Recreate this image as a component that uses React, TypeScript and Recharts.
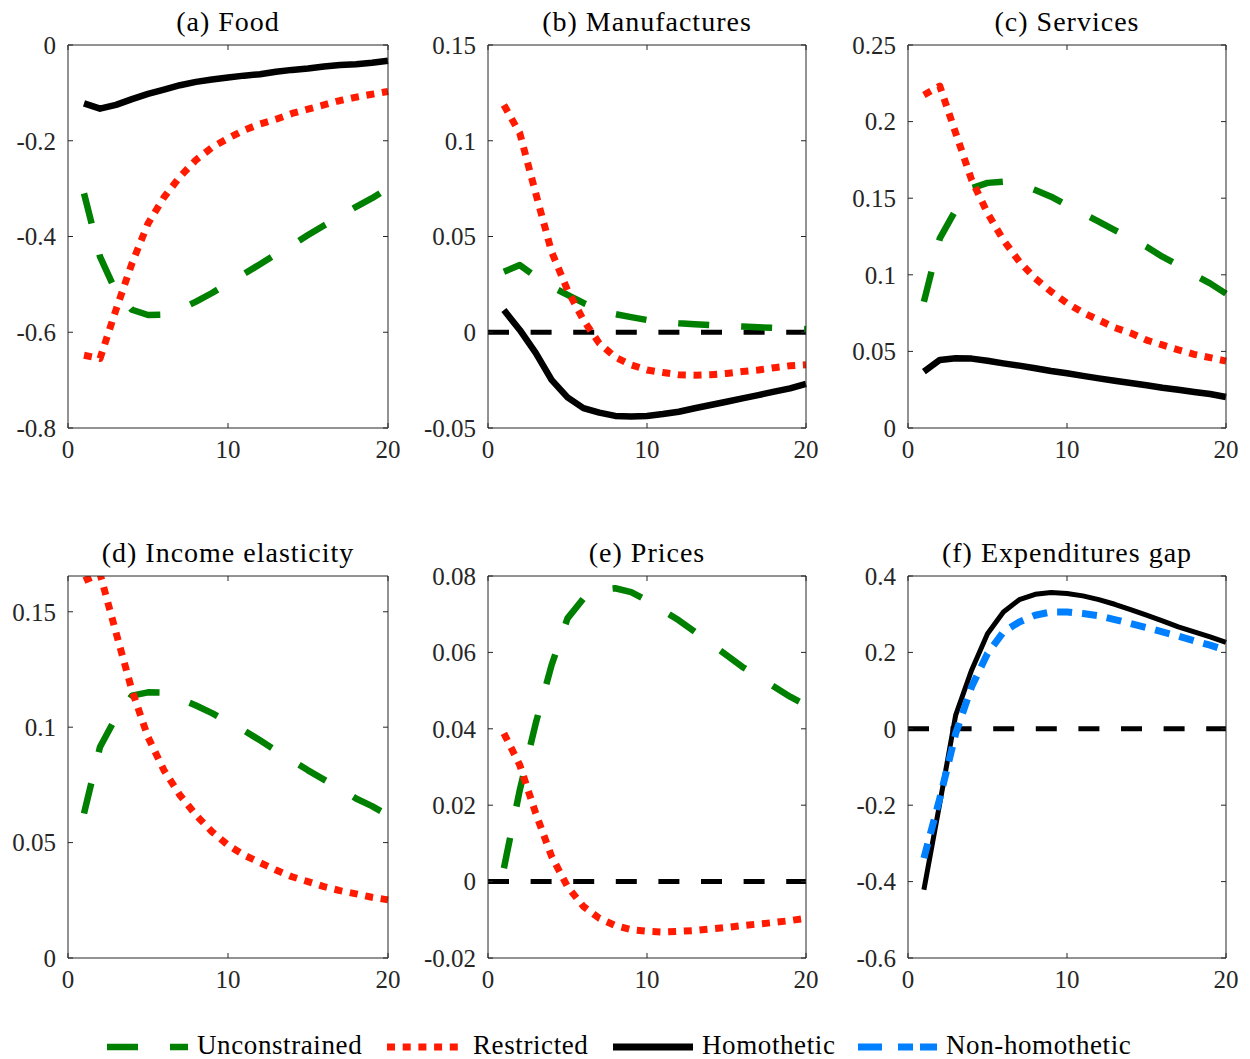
import React from 'react';
import { LineChart, Line, XAxis, YAxis, ReferenceLine } from 'recharts';

const periods = [1, 2, 3, 4, 5, 6, 7, 8, 9, 10, 11, 12, 13, 14, 15, 16, 17, 18, 19, 20];

// (a) Food
const foodUnconstrained = [-0.31, -0.442, -0.515, -0.553, -0.564, -0.563, -0.552, -0.536, -0.518, -0.498, -0.478, -0.458, -0.437, -0.418, -0.397, -0.377, -0.358, -0.338, -0.32, -0.299];
const foodRestricted = [-0.648, -0.655, -0.553, -0.456, -0.373, -0.318, -0.275, -0.24, -0.214, -0.195, -0.178, -0.165, -0.155, -0.143, -0.134, -0.125, -0.116, -0.109, -0.103, -0.097];
const foodHomothetic = [-0.122, -0.133, -0.125, -0.113, -0.102, -0.093, -0.084, -0.077, -0.072, -0.068, -0.064, -0.061, -0.056, -0.052, -0.049, -0.045, -0.042, -0.04, -0.037, -0.033];

// (b) Manufactures
const manufUnconstrained = [0.0316, 0.0351, 0.029, 0.0238, 0.0195, 0.0153, 0.0117, 0.0095, 0.0079, 0.0064, 0.0054, 0.0047, 0.0042, 0.0037, 0.0033, 0.003, 0.0026, 0.0023, 0.0019, 0.0016];
const manufRestricted = [0.1187, 0.1039, 0.0726, 0.042, 0.022, 0.0064, -0.0058, -0.013, -0.017, -0.0197, -0.021, -0.0222, -0.0224, -0.0222, -0.0215, -0.0205, -0.0197, -0.0185, -0.0175, -0.017];
const manufHomothetic = [0.0116, 0.0012, -0.0108, -0.0249, -0.034, -0.0396, -0.042, -0.0437, -0.044, -0.0437, -0.0427, -0.0415, -0.0397, -0.038, -0.0363, -0.0345, -0.0328, -0.031, -0.0293, -0.027];

// (c) Services
const servUnconstrained = [0.0824, 0.1238, 0.1423, 0.1565, 0.16, 0.1608, 0.1594, 0.1553, 0.151, 0.1455, 0.14, 0.1347, 0.1292, 0.1238, 0.1183, 0.1118, 0.1064, 0.0999, 0.0944, 0.0877];
const servRestricted = [0.2174, 0.2232, 0.1925, 0.162, 0.1403, 0.1227, 0.1086, 0.0977, 0.089, 0.0815, 0.0753, 0.0705, 0.0655, 0.062, 0.0574, 0.0542, 0.051, 0.0481, 0.0459, 0.0437];
const servHomothetic = [0.0368, 0.0444, 0.0455, 0.0453, 0.0439, 0.0422, 0.0407, 0.039, 0.0372, 0.0357, 0.034, 0.0324, 0.0309, 0.0294, 0.0279, 0.0263, 0.025, 0.0235, 0.0222, 0.0202];

// (d) Income elasticity
const elastUnconstrained = [0.0626, 0.0914, 0.1043, 0.1137, 0.1151, 0.115, 0.1123, 0.1094, 0.1061, 0.1022, 0.0986, 0.0943, 0.0899, 0.0856, 0.0813, 0.0773, 0.0734, 0.0691, 0.0658, 0.0619];
const elastRestricted = [0.1635, 0.1665, 0.141, 0.1159, 0.0957, 0.0813, 0.0705, 0.0619, 0.0547, 0.0489, 0.0446, 0.0413, 0.0381, 0.0352, 0.0331, 0.0309, 0.0292, 0.0278, 0.0263, 0.0252];

// (e) Prices
const priceUnconstrained = [0.0035, 0.024, 0.0414, 0.0567, 0.0689, 0.0741, 0.0764, 0.0768, 0.0758, 0.0736, 0.071, 0.0684, 0.0654, 0.0623, 0.0593, 0.0562, 0.0536, 0.051, 0.0484, 0.0462];
const priceRestricted = [0.0388, 0.0305, 0.0179, 0.0066, -0.0013, -0.0065, -0.0096, -0.0115, -0.0126, -0.013, -0.0132, -0.013, -0.0128, -0.0124, -0.012, -0.0115, -0.0111, -0.0107, -0.0102, -0.0096];

// (f) Expenditures gap
const gapHomothetic = [-0.4215, -0.195, 0.036, 0.1535, 0.249, 0.306, 0.338, 0.352, 0.3566, 0.354, 0.348, 0.3383, 0.326, 0.312, 0.2973, 0.2824, 0.2667, 0.2537, 0.2406, 0.226];
const gapNonHomothetic = [-0.3387, -0.182, -0.012, 0.11, 0.197, 0.2536, 0.2798, 0.2973, 0.306, 0.306, 0.3017, 0.296, 0.286, 0.2756, 0.265, 0.2536, 0.2424, 0.2301, 0.2189, 0.2058];

const xTicks = [0, 10, 20];

const GREEN = '#008000';
const RED = '#ff1a00';
const BLACK = '#000000';
const BLUE = '#0080ff';
const AXIS = '#262626';
const FONT = '"Liberation Serif", serif';

const green = { color: GREEN, width: 6.5, dash: '31 32' };
const red = { color: RED, width: 7, dash: '8 7.7' };
const black = { color: BLACK, width: 6.5 };
const blue = { color: BLUE, width: 7, dash: '15 10' };

type Series = { key: string; values: number[]; color: string; width: number; dash?: string };

type PanelProps = {
  title: string;
  left: number;
  top: number;
  w: number;
  h: number;
  series: Series[];
  domain: [number, number];
  yTicks: number[];
  zero?: boolean;
  clip?: boolean;
};

// chart frame around the plot box
const YW = 70;
const MT = 11;
const XH = 45;
const MR = 19;

function Panel({ title, left, top, w, h, series, domain, yTicks, zero, clip }: PanelProps) {
  const data = periods.map((t, i) => {
    const row: Record<string, number> = { t };
    series.forEach((s) => {
      row[s.key] = s.values[i];
    });
    return row;
  });
  const tick = { fill: AXIS, fontSize: 25, fontFamily: FONT };
  return (
    <>
      <div
        style={{
          position: 'absolute',
          left: left - 100,
          width: w + 200,
          top: top - 37,
          textAlign: 'center',
          fontSize: 28,
          lineHeight: '28px',
          letterSpacing: 1,
          color: '#000',
          fontFamily: FONT,
          whiteSpace: 'nowrap',
        }}
      >
        {title}
      </div>
      <div style={{ position: 'absolute', left: left - YW, top: top - MT - 1 }}>
        <LineChart
          width={YW + w + 1 + MR}
          height={MT + 1 + h + XH}
          data={data}
          margin={{ top: MT, right: MR, bottom: 0, left: 0 }}
        >
          <XAxis
            dataKey="t"
            type="number"
            domain={[0, 20]}
            ticks={xTicks}
            height={XH}
            tick={tick}
            tickSize={-5}
            tickMargin={17}
            stroke={AXIS}
            interval={0}
          />
          <XAxis
            xAxisId="top"
            dataKey="t"
            orientation="top"
            type="number"
            domain={[0, 20]}
            ticks={xTicks}
            height={1}
            tick={() => null}
            tickSize={-5}
            stroke={AXIS}
            interval={0}
          />
          <YAxis
            type="number"
            domain={domain}
            ticks={yTicks}
            width={YW}
            tick={tick}
            tickSize={-5}
            tickMargin={17}
            stroke={AXIS}
            interval={0}
            allowDataOverflow={clip}
            tickFormatter={(v: number) => String(v)}
          />
          <YAxis
            yAxisId="right"
            orientation="right"
            type="number"
            domain={domain}
            ticks={yTicks}
            width={1}
            tick={() => null}
            tickSize={-5}
            stroke={AXIS}
            interval={0}
            allowDataOverflow
          />
          {zero && (
            <ReferenceLine y={0} stroke={BLACK} strokeWidth={5} strokeDasharray="21 21.6" />
          )}
          {series.map((s) => (
            <Line
              key={s.key}
              dataKey={s.key}
              type="linear"
              stroke={s.color}
              strokeWidth={s.width}
              strokeDasharray={s.dash}
              strokeLinecap="butt"
              strokeLinejoin="round"
              dot={false}
              activeDot={false}
              isAnimationActive={false}
            />
          ))}
        </LineChart>
      </div>
    </>
  );
}

function LegendSample({ x1, x2, color, width, dash }: { x1: number; x2: number; color: string; width: number; dash?: string }) {
  return (
    <svg style={{ position: 'absolute', left: x1, top: 1037 }} width={x2 - x1} height={20}>
      <line x1={0} y1={10} x2={x2 - x1} y2={10} stroke={color} strokeWidth={width} strokeDasharray={dash} />
    </svg>
  );
}

function LegendText({ x, text }: { x: number; text: string }) {
  return (
    <div
      style={{
        position: 'absolute',
        left: x,
        top: 1033,
        fontSize: 27,
        lineHeight: '24px',
        letterSpacing: 0.6,
        fontFamily: FONT,
        color: '#000',
        whiteSpace: 'nowrap',
      }}
    >
      {text}
    </div>
  );
}

export default function App() {
  return (
    <div
      style={{
        position: 'absolute',
        left: 0,
        top: 0,
        width: 1250,
        height: 1059,
        background: '#fff',
        overflow: 'hidden',
      }}
    >
      <Panel
        title="(a) Food"
        left={68}
        top={45}
        w={320}
        h={383}
        domain={[-0.8, 0]}
        yTicks={[-0.8, -0.6, -0.4, -0.2, 0]}
        series={[
          { key: 'u', values: foodUnconstrained, ...green },
          { key: 'r', values: foodRestricted, ...red },
          { key: 'h', values: foodHomothetic, ...black },
        ]}
      />
      <Panel
        title="(b) Manufactures"
        left={488}
        top={45}
        w={318}
        h={383}
        domain={[-0.05, 0.15]}
        yTicks={[-0.05, 0, 0.05, 0.1, 0.15]}
        zero
        series={[
          { key: 'u', values: manufUnconstrained, ...green },
          { key: 'r', values: manufRestricted, ...red },
          { key: 'h', values: manufHomothetic, ...black },
        ]}
      />
      <Panel
        title="(c) Services"
        left={908}
        top={45}
        w={318}
        h={383}
        domain={[0, 0.25]}
        yTicks={[0, 0.05, 0.1, 0.15, 0.2, 0.25]}
        series={[
          { key: 'u', values: servUnconstrained, ...green },
          { key: 'r', values: servRestricted, ...red },
          { key: 'h', values: servHomothetic, ...black },
        ]}
      />
      <Panel
        title="(d) Income elasticity"
        left={68}
        top={576}
        w={320}
        h={382}
        domain={[0, 0.1655]}
        yTicks={[0, 0.05, 0.1, 0.15]}
        clip
        series={[
          { key: 'u', values: elastUnconstrained, ...green },
          { key: 'r', values: elastRestricted, ...red },
        ]}
      />
      <Panel
        title="(e) Prices"
        left={488}
        top={576}
        w={318}
        h={382}
        domain={[-0.02, 0.08]}
        yTicks={[-0.02, 0, 0.02, 0.04, 0.06, 0.08]}
        zero
        series={[
          { key: 'u', values: priceUnconstrained, ...green },
          { key: 'r', values: priceRestricted, ...red },
        ]}
      />
      <Panel
        title="(f) Expenditures gap"
        left={908}
        top={576}
        w={318}
        h={382}
        domain={[-0.6, 0.4]}
        yTicks={[-0.6, -0.4, -0.2, 0, 0.2, 0.4]}
        zero
        series={[
          { key: 'h', values: gapHomothetic, ...black, width: 5 },
          { key: 'n', values: gapNonHomothetic, ...blue },
        ]}
      />

      <LegendSample x1={107} x2={188} {...green} />
      <LegendText x={197} text="Unconstrained" />
      <LegendSample x1={387} x2={465} {...red} />
      <LegendText x={473} text="Restricted" />
      <LegendSample x1={613} x2={693} {...black} width={7} />
      <LegendText x={702} text="Homothetic" />
      <LegendSample x1={858} x2={940} {...blue} dash="24 16 15 7 17" />
      <LegendText x={946} text="Non-homothetic" />
    </div>
  );
}
